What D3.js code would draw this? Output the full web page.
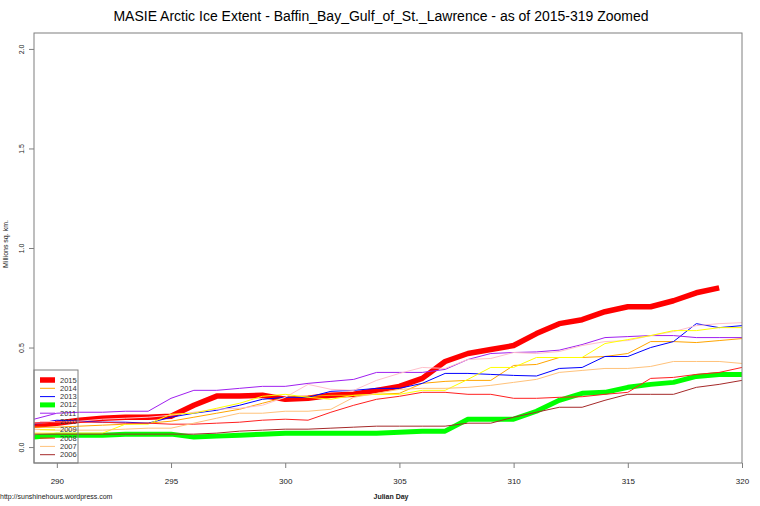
<!DOCTYPE html>
<html>
<head>
<meta charset="utf-8">
<script src="https://cdn.jsdelivr.net/npm/d3@7"></script>
<style>
  html, body { margin: 0; padding: 0; background: #fff; }
  svg { display: block; font-family: "Liberation Sans", Arial, sans-serif; }
</style>
</head>
<body>
<svg id="chart" width="760" height="506"></svg>
<script>
// ---- data (Julian days 289..320) ----
const days = [289,290,291,292,293,294,295,296,297,298,299,300,301,302,303,304,305,306,307,308,309,310,311,312,313,314,315,316,317,318,319,320];
const y2015 = [0.11,0.12,0.135,0.145,0.15,0.15,0.155,0.21,0.256,0.256,0.26,0.24,0.245,0.26,0.265,0.285,0.305,0.345,0.43,0.47,0.49,0.51,0.57,0.62,0.64,0.68,0.705,0.705,0.735,0.775,0.80];
const y2014 = [0.10,0.10,0.105,0.11,0.115,0.12,0.13,0.15,0.17,0.19,0.22,0.25,0.255,0.26,0.26,0.265,0.27,0.32,0.33,0.335,0.335,0.41,0.415,0.45,0.45,0.455,0.47,0.53,0.53,0.525,0.535,0.545];
const y2013 = [0.115,0.135,0.13,0.125,0.125,0.12,0.15,0.17,0.185,0.21,0.24,0.25,0.25,0.28,0.285,0.295,0.295,0.32,0.37,0.37,0.365,0.36,0.357,0.395,0.40,0.455,0.455,0.50,0.53,0.62,0.60,0.61];
const y2012 = [0.05,0.06,0.06,0.06,0.065,0.065,0.065,0.05,0.055,0.06,0.065,0.07,0.07,0.07,0.07,0.07,0.075,0.08,0.08,0.14,0.14,0.14,0.18,0.235,0.27,0.275,0.30,0.315,0.325,0.355,0.365,0.365];
const y2011 = [0.14,0.17,0.175,0.175,0.18,0.18,0.245,0.285,0.285,0.295,0.305,0.305,0.32,0.33,0.34,0.375,0.375,0.375,0.39,0.44,0.47,0.475,0.478,0.487,0.515,0.55,0.555,0.56,0.56,0.55,0.55,0.55];
const y2010 = [0.12,0.125,0.13,0.14,0.145,0.15,0.16,0.175,0.19,0.195,0.21,0.25,0.315,0.29,0.285,0.335,0.37,0.40,0.395,0.44,0.445,0.475,0.47,0.48,0.51,0.53,0.535,0.56,0.58,0.61,0.62,0.625];
const y2009 = [0.07,0.07,0.07,0.07,0.115,0.115,0.165,0.17,0.195,0.22,0.255,0.265,0.25,0.24,0.26,0.265,0.265,0.285,0.285,0.34,0.40,0.40,0.45,0.45,0.45,0.52,0.54,0.56,0.585,0.585,0.60,0.60];
const y2008 = [0.12,0.125,0.125,0.125,0.12,0.12,0.115,0.115,0.12,0.125,0.135,0.14,0.135,0.175,0.21,0.24,0.255,0.275,0.275,0.265,0.265,0.245,0.245,0.25,0.253,0.265,0.275,0.345,0.35,0.365,0.375,0.40];
const y2007 = [0.09,0.085,0.085,0.085,0.09,0.095,0.095,0.12,0.145,0.17,0.17,0.18,0.18,0.19,0.25,0.27,0.29,0.295,0.295,0.30,0.31,0.325,0.34,0.375,0.385,0.395,0.395,0.405,0.43,0.43,0.43,0.42];
const y2006 = [0.065,0.065,0.065,0.065,0.065,0.065,0.065,0.065,0.07,0.08,0.085,0.09,0.09,0.095,0.10,0.105,0.105,0.105,0.105,0.12,0.12,0.15,0.175,0.20,0.20,0.235,0.265,0.265,0.265,0.30,0.315,0.335];

const years = ["2015","2014","2013","2012","2011","2010","2009","2008","2007","2006"];
const seriesValues = [y2015,y2014,y2013,y2012,y2011,y2010,y2009,y2008,y2007,y2006];
const xTicks = [290,295,300,305,310,315,320];
const yTicks = [0.0,0.5,1.0,1.5,2.0];

// ---- styles ----
const colors = ["#ff0000","#ffa500","#0000ff","#00ff00","#a020f0","#ffc0cb","#ffff00","#ff2020","#ffc27a","#a52a2a"];
const widths = [5.5,1,1,5,1,1,1,1,1,1];

const svg = d3.select("#chart");
const L = 34, R = 742, T = 33, B = 463;
const x = d3.scaleLinear().domain([289,320]).range([L,R]);
const y = d3.scaleLinear().domain([-0.08,2.08]).range([B,T]);

svg.append("defs").append("clipPath").attr("id","clip")
  .append("rect").attr("x",L).attr("y",T).attr("width",R-L).attr("height",B-T);

// lines
const line = d3.line().x((d,i)=>x(days[i])).y(d=>y(d));
const g = svg.append("g").attr("clip-path","url(#clip)");
seriesValues.forEach((vals,k)=>{
  g.append("path").datum(vals)
    .attr("d",line)
    .attr("fill","none")
    .attr("stroke",colors[k])
    .attr("stroke-width",widths[k])
    .attr("stroke-linejoin","round")
    .attr("stroke-linecap","butt");
});

// frame
svg.append("rect").attr("x",L).attr("y",T).attr("width",R-L).attr("height",B-T)
  .attr("fill","none").attr("stroke","#7f7f7f").attr("stroke-width",1);

// x axis
const xAxis = svg.append("g").attr("transform",`translate(0,${B})`)
  .call(d3.axisBottom(x).tickValues(xTicks).tickSize(5).tickPadding(10).tickFormat(d3.format("d")));
xAxis.select(".domain").remove();
xAxis.selectAll("line").attr("stroke","#7f7f7f");
xAxis.selectAll("text").attr("font-size","8px").attr("fill","#222").attr("font-family","Liberation Sans, Arial, sans-serif");

// y axis
const yAxis = svg.append("g").attr("transform",`translate(${L},0)`)
  .call(d3.axisLeft(y).tickValues(yTicks).tickSize(5).tickFormat(d3.format(".1f")));
yAxis.select(".domain").remove();
yAxis.selectAll("line").attr("stroke","#7f7f7f");
yAxis.selectAll("text")
  .attr("font-size","7px").attr("fill","#222")
  .attr("font-family","Liberation Sans, Arial, sans-serif")
  .attr("text-anchor","middle")
  .attr("x",0).attr("dy",0)
  .attr("transform","translate(-10,0) rotate(-90)");

// titles
svg.append("text").attr("x",381).attr("y",21).attr("text-anchor","middle")
  .attr("font-size","14px").attr("fill","#000")
  .text("MASIE Arctic Ice Extent - Baffin_Bay_Gulf_of_St._Lawrence - as of 2015-319 Zoomed");
svg.append("text").attr("transform","translate(8,244) rotate(-90)").attr("text-anchor","middle")
  .attr("font-size","7px").attr("fill","#222").text("Millions sq. km.");
svg.append("text").attr("x",391).attr("y",499).attr("text-anchor","middle")
  .attr("font-size","7px").attr("font-weight","bold").attr("fill","#222").text("Julian Day");
svg.append("text").attr("x",0).attr("y",499)
  .attr("font-size","7px").attr("fill","#222").text("http://sunshinehours.wordpress.com");

// legend
const lg = svg.append("g");
lg.append("rect").attr("x",L).attr("y",370).attr("width",44).attr("height",B-370)
  .attr("fill","none").attr("stroke","#7f7f7f").attr("stroke-width",1);
years.forEach((yr,k)=>{
  const yy = 380 + k*8.3;
  lg.append("line").attr("x1",40).attr("x2",55).attr("y1",yy).attr("y2",yy)
    .attr("stroke",colors[k]).attr("stroke-width",widths[k]);
  lg.append("text").attr("x",60).attr("y",yy+2.5).attr("font-size","7.5px").attr("fill","#333").text(yr);
});
</script>
</body>
</html>
